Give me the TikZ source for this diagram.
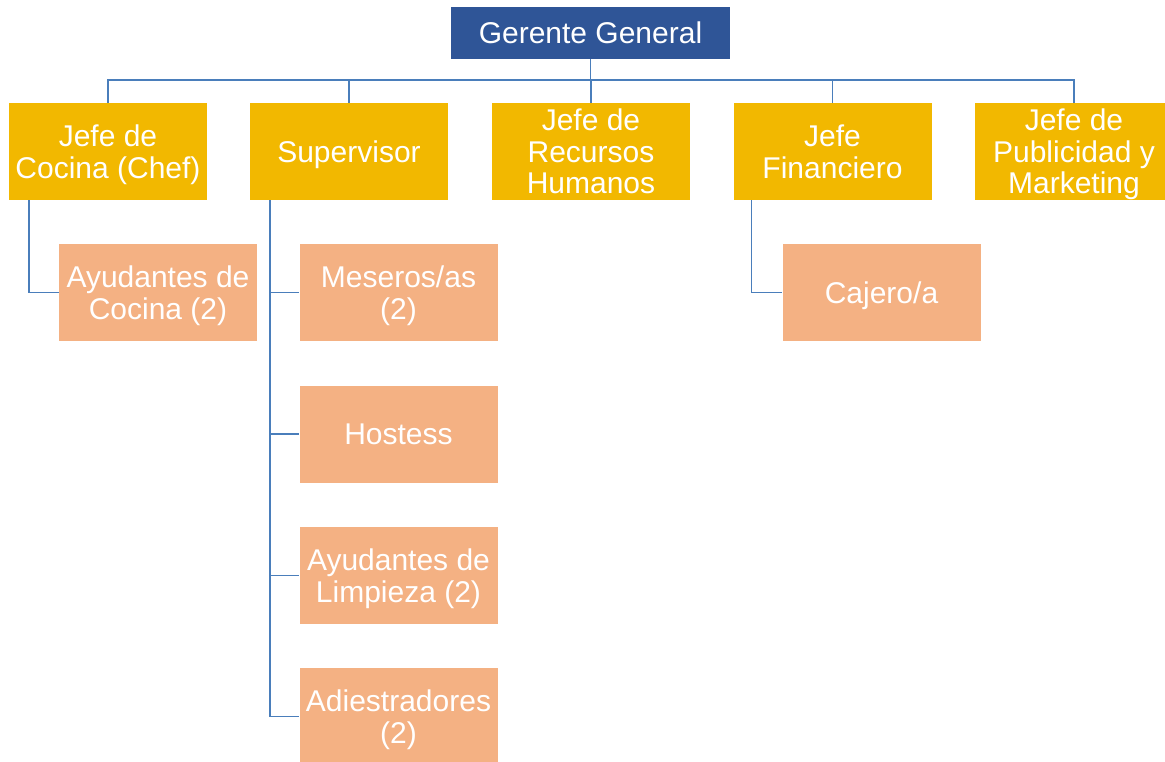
\documentclass[tikz,border=0pt]{standalone}
\usepackage{fontspec}
\setmainfont{Liberation Sans}
\definecolor{topblue}{RGB}{47,85,151}
\definecolor{headyellow}{RGB}{242,184,0}
\definecolor{staffsalmon}{RGB}{244,177,131}
\definecolor{linkblue}{RGB}{74,126,187}

\begin{document}
\begin{tikzpicture}[
    x=1pt,
    y=-1pt,
    line cap=butt,
    every node/.style={font=\fontsize{30}{31.5}\selectfont, text=white,
                       align=center, inner sep=0pt, text depth=0pt},
    box/.style={minimum width=198pt, minimum height=97pt},
    manager/.style={fill=topblue, minimum width=279pt, minimum height=52pt},
    head/.style={box, fill=headyellow},
    staff/.style={box, fill=staffsalmon},
    link/.style={draw=linkblue, line width=1.6pt}
]
\useasboundingbox (0,0) rectangle (1165,762);

% Top level
\node[manager] (gerente) at (590.5,33) {Gerente General};

% Heads of area
\node[head] (chef)       at (108,151.5)  {Jefe de\\Cocina (Chef)};
\node[head] (supervisor) at (349,151.5)  {Supervisor};
\node[head] (rrhh)       at (591,151.5)  {Jefe de\\Recursos\\Humanos};
\node[head] (finanzas)   at (832.5,151.5) {Jefe\\Financiero};
\node[head] (publicidad) at (1074,151.5) {Jefe de\\Publicidad y\\Marketing};

% Staff
\node[staff] (ayucocina)  at (158,292.5)   {Ayudantes de\\Cocina (2)};
\node[staff] (meseros)    at (398.5,292.5) {Meseros/as\\(2)};
\node[staff] (hostess)    at (398.5,434)   {Hostess};
\node[staff] (limpieza)   at (398.5,575.5) {Ayudantes de\\Limpieza (2)};
\node[staff] (adiestra)   at (398.5,716.5) {Adiestradores\\(2)};
\node[staff] (cajero)     at (881.5,292.5) {Cajero/a};

% Links to the heads
\foreach \h in {chef,supervisor,rrhh,finanzas,publicidad}{
    \draw[link] (gerente.south) -- ++(0,21) -| (\h.north);
}

% Links to the staff
\draw[link] ([xshift=20pt]chef.south west) |- (ayucocina.west);
\foreach \s in {meseros,hostess,limpieza,adiestra}{
    \draw[link] ([xshift=20pt]supervisor.south west) |- (\s.west);
}
\draw[link] ([xshift=18pt]finanzas.south west) |- (cajero.west);

\end{tikzpicture}
\end{document}
